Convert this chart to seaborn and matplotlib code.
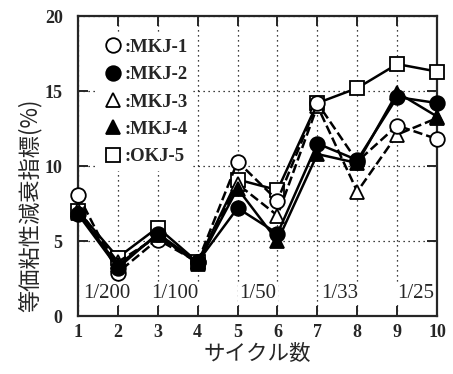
import matplotlib
matplotlib.use("Agg")
import matplotlib.pyplot as plt
import seaborn as sns
import pandas as pd
from matplotlib.lines import Line2D

# Données
cycles = [1, 2, 3, 4, 5, 6, 7, 8, 9, 10]
mkj1 = [8.1, 2.9, 5.1, 3.6, 10.3, 7.7, 14.2, 10.3, 12.7, 11.8]
mkj2 = [6.8, 3.2, 5.5, 3.6, 7.2, 5.5, 11.5, 10.4, 14.6, 14.2]
mkj3 = [7.1, 3.6, 5.3, 3.6, 8.8, 6.7, 14.0, 8.3, 12.1, 13.2]
mkj4 = [6.9, 3.4, 5.4, 3.5, 8.5, 5.0, 10.8, 10.2, 14.9, 13.3]
okj5 = [7.0, 3.9, 5.9, 3.6, 9.1, 8.4, 14.2, 15.2, 16.8, 16.3]

drift_labels = ["1/200", "1/100", "1/50", "1/33", "1/25"]
drift_x = [1.73, 3.43, 5.51, 7.57, 9.45]
drift_y = 1.5

sns.set_style("ticks")
plt.rcParams['font.family'] = ['Liberation Serif', 'Noto Sans CJK JP', 'DejaVu Sans']

df = pd.DataFrame({"cycle": cycles, "MKJ-1": mkj1, "MKJ-2": mkj2,
                   "MKJ-3": mkj3, "MKJ-4": mkj4, "OKJ-5": okj5})

# nom, marqueur, remplissage, style de ligne (ordre de dessin)
series = [
    ("OKJ-5", "s", "white", "-"),
    ("MKJ-3", "^", "white", "--"),
    ("MKJ-1", "o", "white", "--"),
    ("MKJ-4", "^", "black", "-"),
    ("MKJ-2", "o", "black", "-"),
]

fig = plt.figure(figsize=(4.53, 3.74), dpi=100)
ax = fig.add_axes([0.172, 0.155, 0.793, 0.802])

for i, (nom, mk, face, ls) in enumerate(series):
    sns.lineplot(data=df, x="cycle", y=nom, ax=ax, color="black",
                 marker=mk, markersize=10.5, markerfacecolor=face,
                 markeredgecolor="black", markeredgewidth=1.3,
                 linestyle=ls, linewidth=1.8, clip_on=False,
                 zorder=3 + i, legend=False)

ax.set_xlim(1, 10)
ax.set_ylim(0, 20)
ax.set_xticks(cycles)
ax.set_yticks([0, 5, 10, 15, 20])
ax.grid(True, linestyle=(0, (1, 3)), color="black", linewidth=0.9)

for sp in ax.spines.values():
    sp.set_visible(True)
    sp.set_linewidth(1.6)

ax.tick_params(direction="in", top=True, right=True, length=7, width=1.4,
               labelsize=13)
ax.tick_params(axis="y", pad=11)
ax.tick_params(axis="x", pad=6)
for lab in ax.get_xticklabels() + ax.get_yticklabels():
    lab.set_fontweight("bold")

for txt, xx in zip(drift_labels, drift_x):
    ax.text(xx, drift_y, txt, ha="center", va="center", fontsize=15,
            zorder=2,
            bbox=dict(facecolor="white", edgecolor="none", pad=1))

ax.set_xlabel("サイクル数", fontsize=15.5, family=['Noto Sans CJK JP'], labelpad=1)
ax.set_ylabel("等価粘性減衰指標(%)", fontsize=16, family=['Noto Sans CJK JP'])
ax.yaxis.set_label_coords(-0.10, 0.37)

# Légende : marqueur seul puis ":nom"
ordre = [("MKJ-1", "o", "white"), ("MKJ-2", "o", "black"),
         ("MKJ-3", "^", "white"), ("MKJ-4", "^", "black"),
         ("OKJ-5", "s", "white")]
handles = [Line2D([], [], linestyle="none", marker=mk, markersize=10.5,
                  markerfacecolor=face, markeredgecolor="black",
                  markeredgewidth=1.3) for _, mk, face in ordre]
labels = [":" + nom for nom, _, _ in ordre]
leg = ax.legend(handles, labels, loc="upper left", bbox_to_anchor=(0.03, 0.975),
                frameon=True, facecolor="white", edgecolor="none", framealpha=1,
                handlelength=1.0, handletextpad=0.1, labelspacing=0.55,
                borderpad=0.3, prop={"family": "Liberation Serif",
                                     "weight": "bold", "size": 13.5})
leg.set_zorder(20)

fig.savefig("out.png", dpi=100)
